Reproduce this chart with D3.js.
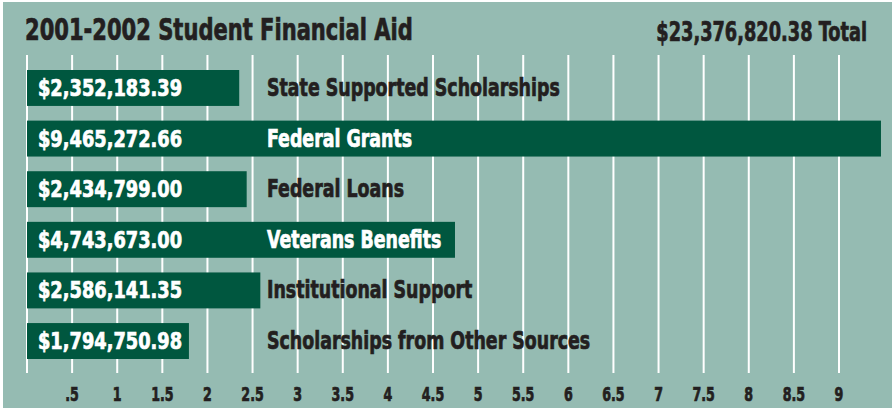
<!DOCTYPE html>
<html>
<head>
<meta charset="utf-8">
<script src="https://cdn.jsdelivr.net/npm/d3@7"></script>
<style>
  html, body { margin: 0; padding: 0; background: #fff; }
  svg { display: block; }
  .heavy { font-family: "DejaVu Sans Condensed", "DejaVu Sans", sans-serif; font-weight: bold; }
</style>
</head>
<body>
<svg id="chart" width="892" height="409"></svg>
<script>
// data
const categories = [
  'State Supported Scholarships',
  'Federal Grants',
  'Federal Loans',
  'Veterans Benefits',
  'Institutional Support',
  'Scholarships from Other Sources',
];
const amounts = [2352183.39, 9465272.66, 2434799.0, 4743673.0, 2586141.35, 1794750.98];
const tickValues = [0.5, 1, 1.5, 2, 2.5, 3, 3.5, 4, 4.5, 5, 5.5, 6, 6.5, 7, 7.5, 8, 8.5, 9];
const titleText = '2001-2002 Student Financial Aid';
const totalText = '$23,376,820.38 Total';

const W = 892;
const H = 409;
const bg = '#95bbb2';
const barColor = '#00573f';
const ink = '#231f20';

const svg = d3.select('#chart');

svg.append('rect').attr('width', W).attr('height', H).attr('fill', '#fff');
svg.append('rect').attr('x', 3).attr('y', 2).attr('width', W - 3).attr('height', H - 3).attr('fill', bg);

const x = d3.scaleLinear().domain([0, 9]).range([27, 839]);
const y = d3.scaleBand().domain(categories).range([70, 359]).paddingInner(0.29);

const rows = categories.map((c, i) => ({ name: c, value: amounts[i] / 1e6, raw: amounts[i] }));

// squeezed text helper: text sits at 0,0 inside a horizontally scaled group
// (fakes the condensed poster face; small stroke thickens the strokes)
function squeezedText(parent, px, py, str, size, k, color, anchor) {
  const g = parent.append('g').attr('transform', `translate(${px},${py}) scale(${k},1)`);
  return g
    .append('text')
    .attr('class', 'heavy')
    .attr('font-size', size)
    .attr('text-anchor', anchor || 'start')
    .attr('fill', color)
    .attr('stroke', color)
    .attr('stroke-width', 0.7)
    .text(str);
}

// grid
const grid = svg.append('g').attr('class', 'grid');
grid
  .selectAll('line')
  .data([0].concat(tickValues))
  .join('line')
  .attr('x1', d => x(d))
  .attr('x2', d => x(d))
  .attr('y1', 55)
  .attr('y2', 373)
  .attr('stroke', '#fff')
  .attr('stroke-width', 2);

// tick labels
const fmtTick = d => d3.format('~g')(d).replace(/^0\./, '.');
const axisG = svg.append('g');
tickValues.forEach(v => {
  squeezedText(axisG, x(v), 401, fmtTick(v), 19, 0.74, ink, 'middle');
});

// bars
const bars = svg.append('g');
bars
  .selectAll('rect')
  .data(rows)
  .join('rect')
  .attr('x', x(0))
  .attr('y', d => y(d.name))
  .attr('width', d => x(d.value) - x(0))
  .attr('height', y.bandwidth())
  .attr('fill', barColor);

// labels
const fmtMoney = d => '$' + d3.format(',.2f')(d);
const labels = svg.append('g');
const K_CAT = 0.79;
rows.forEach(d => {
  const base = y(d.name) + y.bandwidth() / 2 + 8;
  squeezedText(labels, 38, base, fmtMoney(d.raw), 23, 0.86, '#fff');
  const t = squeezedText(labels, 267, base, d.name, 24.5, K_CAT, ink);
  const w = t.node().getComputedTextLength() * K_CAT;
  const c = x(d.value) > 267 + w ? '#fff' : ink;
  t.attr('fill', c).attr('stroke', c);
});

// title + total
squeezedText(svg, 25, 40, titleText, 30, 0.78, ink);
squeezedText(svg, 867, 41, totalText, 26, 0.76, ink, 'end');
</script>
</body>
</html>
